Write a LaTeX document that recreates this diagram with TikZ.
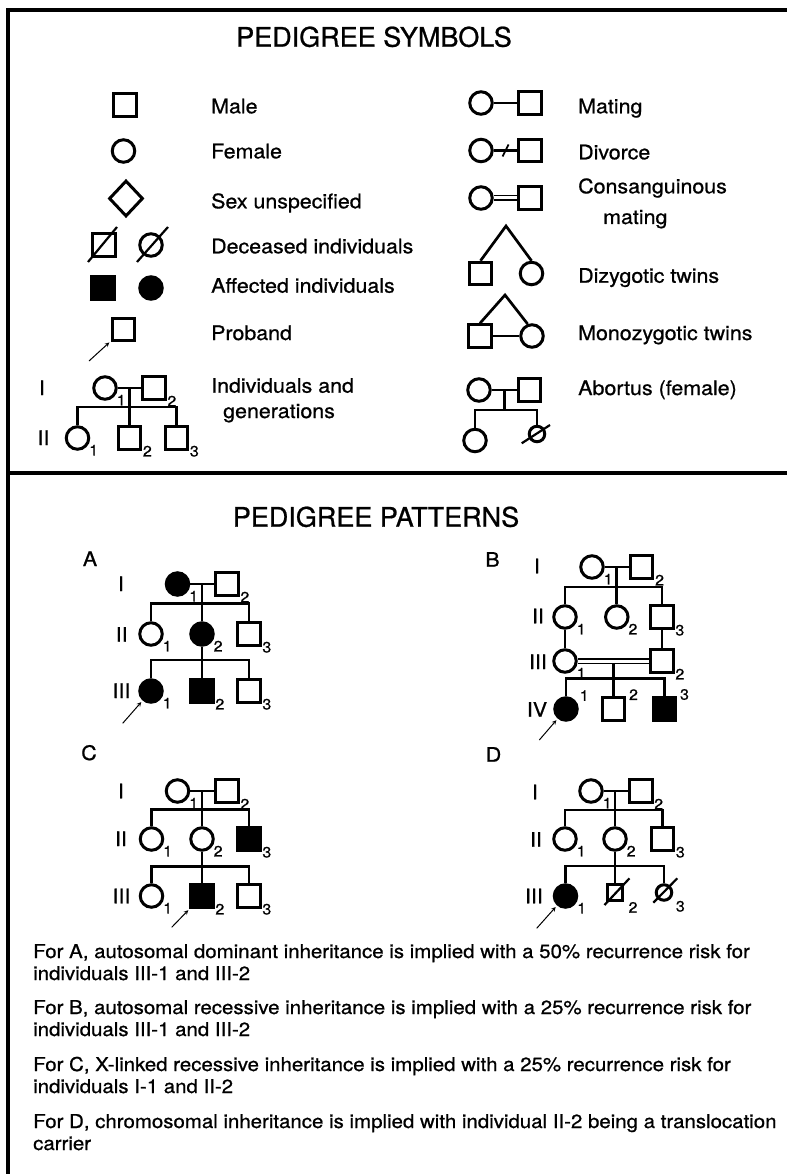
\documentclass[tikz,border=0pt]{standalone}
\usepackage{fontspec}
\setmainfont[FakeStretch=1.07,FakeBold=0.8]{TeX Gyre Heros}
\newfontfamily\headfont[FakeBold=0.8]{TeX Gyre Heros}
\usetikzlibrary{shapes.geometric,calc,positioning}
\newcommand{\labfont}{\fontsize{20}{24}\selectfont}
\newcommand{\numfont}{\fontsize{15}{18}\selectfont}
\newcommand{\notefont}{\fontsize{19.1}{22}\selectfont}
\newcommand{\headsize}{\headfont\fontsize{27}{32}\selectfont}

\begin{document}
\begin{tikzpicture}
[x=1pt,y=-1pt,>=stealth,
 male/.style={draw,rectangle,minimum size=22.5pt,inner sep=0pt,line width=3pt},
 female/.style={draw,circle,minimum size=22.5pt,inner sep=0pt,line width=3pt},
 unsure/.style={draw,diamond,minimum width=34pt,minimum height=36pt,inner sep=0pt,line width=3pt},
 aff/.style={fill=black},
 tiny/.style={minimum size=15.5pt},
 num/.style={inner sep=0pt,font=\numfont},
 sub/.style={label={[num,label distance=0.5pt]-30:#1}},
 sup/.style={label={[num,label distance=3pt]30:#1}},
 tsub/.style={label={[num,label distance=5pt]-35:#1}},
 txt/.style={inner sep=0pt,anchor=base west,font=\labfont},
 gen/.style={inner sep=0pt,anchor=base,font=\labfont},
 note/.style={inner sep=0pt,anchor=base west,font=\notefont},
 head/.style={inner sep=0pt,anchor=base,font=\headsize},
 link/.style={line width=2.7pt},
 cut/.style={line width=2.2pt},
 pointer/.style={->,line width=1pt,shorten >=2pt},
 frame/.style={line width=4pt}]
\useasboundingbox (0,0) rectangle (787,1174);
\draw[frame] (7.5,1174) -- (7.5,10.5) -- (787,10.5);
\draw[frame] (7.5,473) -- (787,473);

\node (symtitle) at (374,46.7)[head] {PEDIGREE SYMBOLS};
\node (pattitle) at (376,526.7)[head] {PEDIGREE PATTERNS};

\node (male) at (125,105)[male] {};
\node (fem) at (123.5,151)[female] {};
\node (unk) at (126,198.5)[unsure] {};
\node (decm) at (104,245)[male] {};
\node (decf) at (151,245)[female] {};
\node (affm) at (103,288)[male,aff] {};
\node (afff) at (151,288)[female,aff] {};
\node (prb) at (123.5,329.5)[male] {};
\coordinate (pr0) at (89,361);
\draw[cut] ($(decm)+(-16,17)$) -- ($(decm)+(13,-18)$);
\draw[cut] ($(decf)+(-14,17)$) -- ($(decf)+(17,-18)$);
\draw[pointer] (pr0) -- (prb);

\node (exi) at (42,395)[gen] {I};
\node (exii) at (43.5,445)[gen] {II};
\node (ex11) at (105,388)[female,sub=1] {};
\node (ex12) at (154,388)[male,sub=2] {};
\node (ex21) at (77.5,438)[female,sub=1] {};
\node (ex22) at (129.5,438)[male,sub=2] {};
\node (ex23) at (176.5,438)[male,sub=3] {};
\coordinate (exs) at (129.5,407);
\draw[link] (ex11) -- (ex12);
\draw[link] (ex22) -- (ex22 |- ex11);
\draw[link] (ex21) |- (exs) -| (ex23);

\node (lmale) at (211,113.3)[txt] {Male};
\node (lfem) at (211,158.3)[txt] {Female};
\node (lunk) at (211,208.3)[txt] {Sex unspecified};
\node (ldec) at (211,253.3)[txt] {Deceased individuals};
\node (laff) at (211,292.7)[txt] {Affected individuals};
\node (lprb) at (211,340)[txt] {Proband};
\node (lind) at (211,392.7)[txt] {Individuals and};
\node (lgen) at (223,418)[txt] {generations};

\node (mtf) at (481,103)[female] {};
\node (mtm) at (530,103)[male] {};
\node (dvf) at (481,150.5)[female] {};
\node (dvm) at (530,150.5)[male] {};
\node (csf) at (481,198)[female] {};
\node (csm) at (530,198)[male] {};
\node (dzm) at (480.5,273.5)[male] {};
\node (dzf) at (531.5,273.5)[female] {};
\node (mzm) at (480,336)[male] {};
\node (mzf) at (532,336)[female] {};
\node (abf) at (479,390)[female] {};
\node (abm) at (529.5,390)[male] {};
\node (abc) at (475,440.5)[female] {};
\node (abd) at (537,434)[female,tiny] {};
\coordinate (dvx) at ($(dvf)!.5!(dvm)$);
\coordinate (dzt) at (506,226);
\coordinate (mzt) at (505,295);
\coordinate (abx) at ($(abf)!.5!(abm)$);
\coordinate (abs) at (504.25,410);
\draw[link] (mtf) -- (mtm);
\draw[link] (dvf) -- (dvm);
\draw[line width=1.8pt] ($(dvx)+(-3,6)$) -- ($(dvx)+(3,-6)$);
\draw[link,line width=1.8pt,double,double distance=3pt] (csf) -- (csm);
\draw[link] (dzm.north) -- (dzt) -- (dzf.north);
\draw[link] (mzm.north) -- (mzt) -- (mzf.110);
\draw[link] (mzm) -- (mzf);
\draw[link] (abf) -- (abm);
\draw[link] (abx) -- (abs);
\draw[link] (abc) |- (abs) -| (abd);
\draw[cut] ($(abd)+(-15.3,9.3)$) -- ($(abd)+(13,-9)$);

\node (lmt) at (578,113.3)[txt] {Mating};
\node (ldv) at (578,159.3)[txt] {Divorce};
\node (lcs) at (578,193.3)[txt] {Consanguinous};
\node (lcs2) at (603,224)[txt] {mating};
\node (ldz) at (578,282.7)[txt] {Dizygotic twins};
\node (lmz) at (578,340)[txt] {Monozygotic twins};
\node (lab) at (578,395)[txt] {Abortus (female)};

\node (fama) at (90,566)[gen] {A};
\node (ai) at (121,591)[gen] {I};
\node (aii) at (121.7,641.7)[gen] {II};
\node (aiii) at (121.5,698)[gen] {III};
\node (a11) at (177.5,584)[female,aff,sub=1] {};
\node (a12) at (227,584)[male,sub=2] {};
\node (a21) at (151,634)[female,sub=1] {};
\node (a22) at (202,634)[female,aff,sub=2] {};
\node (a23) at (249,634)[male,sub=3] {};
\node (a31) at (151,691)[female,aff,sub=1] {};
\node (a32) at (202,691)[male,aff,sub=2] {};
\node (a33) at (249,691)[male,sub=3] {};
\coordinate (as1) at (202,603.3);
\coordinate (as2) at (202,660);
\coordinate (pa) at (122.7,723.3);
\draw[link] (a11) -- (a12);
\draw[link] (a22) -- (a22 |- a11);
\draw[link] (a21) |- (as1) -| (a23);
\draw[link] (a32) -- (a22);
\draw[link] (a31) |- (as2) -| (a33);
\draw[pointer] (pa) -- (a31);

\node (famb) at (492.5,566.7)[gen] {B};
\node (bi) at (537,573.3)[gen] {I};
\node (bii) at (538,623.3)[gen] {II};
\node (biii) at (538,669)[gen] {III};
\node (biv) at (537,716.7)[gen] {IV};
\node (b11) at (592,567)[female,sub=1] {};
\node (b12) at (641.7,567)[male,sub=2] {};
\node (b21) at (565,617)[female,sub=1] {};
\node (b22) at (616.8,617)[female,sub=2] {};
\node (b23) at (662,617)[male,sub=3] {};
\node (b31) at (565,661)[female,sub=1] {};
\node (b32) at (662,661)[male,sub=2] {};
\node (b41) at (566,709)[female,aff,sup=1] {};
\node (b42) at (613.5,709)[male,sup=2] {};
\node (b43) at (664.5,709)[male,aff,sup=3] {};
\coordinate (bs1) at (616.8,587);
\coordinate (bs2) at (613.5,678.3);
\coordinate (pb) at (539.3,740);
\draw[link] (b11) -- (b12);
\draw[link] (b22) -- (b22 |- b11);
\draw[link] (b21) |- (bs1) -| (b23);
\draw[link] (b21) -- (b31);
\draw[link] (b23) -- (b32);
\draw[link] (b42) -- (b42 |- b31);
\draw[link,line width=1.8pt,double,double distance=3pt] (b31) -- (b32);
\draw[link] (b41) |- (bs2) -| (b43);
\draw[pointer] (pb) -- (b41);

\node (famc) at (89,760)[gen] {C};
\node (ci) at (121,798.3)[gen] {I};
\node (cii) at (121,846)[gen] {II};
\node (ciii) at (121.5,903.3)[gen] {III};
\node (c11) at (177.5,791)[female,sub=1] {};
\node (c12) at (227,791)[male,sub=2] {};
\node (c21) at (151.5,839)[female,sub=1] {};
\node (c22) at (202,839)[female,sub=2] {};
\node (c23) at (249,839)[male,aff,sub=3] {};
\node (c31) at (151.5,896)[female,sub=1] {};
\node (c32) at (202,896)[male,aff,sub=2] {};
\node (c33) at (249,896)[male,sub=3] {};
\coordinate (cs1) at (202,809.3);
\coordinate (cs2) at (202,866.7);
\coordinate (pc) at (171.7,927.3);
\draw[link] (c11) -- (c12);
\draw[link] (c22) -- (c22 |- c11);
\draw[link] (c21) |- (cs1) -| (c23);
\draw[link] (c32) -- (c22);
\draw[link] (c31) |- (cs2) -| (c33);
\draw[pointer] (pc) -- (c32);

\node (famd) at (493.5,761.7)[gen] {D};
\node (di) at (535,799.3)[gen] {I};
\node (dii) at (536,846.7)[gen] {II};
\node (diii) at (534,903.3)[gen] {III};
\node (d11) at (591,791)[female,sub=1] {};
\node (d12) at (640.8,791)[male,sub=2] {};
\node (d21) at (565,839)[female,sub=1] {};
\node (d22) at (615,839)[female,sub=2] {};
\node (d23) at (662.5,839)[male,sub=3] {};
\node (d31) at (565.5,896)[female,aff,sub=1] {};
\node (d32) at (615,892.5)[male,tiny,tsub=2] {};
\node (d33) at (664,892.5)[female,tiny,tsub=3] {};
\coordinate (ds1) at (615,810);
\coordinate (ds2) at (615,866);
\coordinate (pd) at (536.7,928.3);
\draw[link] (d11) -- (d12);
\draw[link] (d22) -- (d22 |- d11);
\draw[link] (d21) |- (ds1) -| (d23);
\draw[link] (d32) -- (d22);
\draw[link] (d31) |- (ds2) -| (d33);
\draw[cut] ($(d32)+(-10.5,12.5)$) -- ($(d32)+(14.5,-14.2)$);
\draw[cut] ($(d33)+(-10.7,10.2)$) -- ($(d33)+(13.3,-14.2)$);
\draw[pointer] (pd) -- (d31);

\node (nta) at (33,958)[note] {For A, autosomal dominant inheritance is implied with a 50\% recurrence risk for};
\node (nta2) at (33,980)[note] {individuals III-1 and III-2};
\node (ntb) at (33,1014)[note] {For B, autosomal recessive inheritance is implied with a 25\% recurrence risk for};
\node (ntb2) at (33,1036)[note] {individuals III-1 and III-2};
\node (ntc) at (33,1071)[note] {For C, X-linked recessive inheritance is implied with a 25\% recurrence risk for};
\node (ntc2) at (33,1093)[note] {individuals I-1 and II-2};
\node (ntd) at (33,1128)[note] {For D, chromosomal inheritance is implied with individual II-2 being a translocation};
\node (ntd2) at (33,1150)[note] {carrier};
\end{tikzpicture}
\end{document}
